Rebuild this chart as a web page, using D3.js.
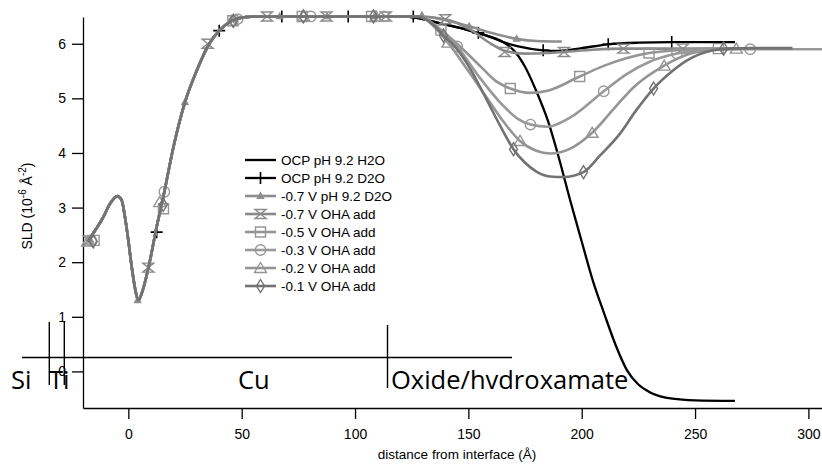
<!DOCTYPE html>
<html><head><meta charset="utf-8">
<script src="https://cdn.jsdelivr.net/npm/d3@7/dist/d3.min.js"></script>
<style>body{margin:0;background:#fff}svg{display:block}</style>
</head><body><svg id="c" width="822" height="464"></svg>
<script>
// ---------- DATA ----------
const xTicks = [0, 50, 100, 150, 200, 250, 300];
const yTicks = [0, 1, 2, 3, 4, 5, 6];
const seriesNames = ["OCP pH 9.2 H2O", "OCP pH 9.2 D2O", "-0.7 V pH 9.2 D2O", "-0.7 V OHA add",
  "-0.5 V OHA add", "-0.3 V OHA add", "-0.2 V OHA add", "-0.1 V OHA add"];
const layerLabels = ["Si", "Ti", "Cu", "Oxide/hvdroxamate"];

// shared substrate part of every profile (distance Å, SLD 1e-6 Å^-2)
const profileX = [-18, -11, -8.1, -4.8, -2.9, -1.5, 0, 1.5, 3.4, 4.4, 5.9, 9.3, 12.5, 15.4, 19.9, 25, 30.2, 35.7, 40.1, 45.6, 52, 60, 80, 100, 120];
const profileY = [2.38, 2.83, 3.07, 3.21, 3.13, 2.83, 2.40, 1.91, 1.43, 1.30, 1.43, 1.98, 2.65, 3.19, 4.11, 4.93, 5.51, 6.0, 6.24, 6.42, 6.49, 6.5, 6.5, 6.5, 6.5];

// series-specific outer parts
const h2oX = [128, 135, 142, 150.7, 158, 165.4, 170, 175, 180, 185, 190, 195, 200, 205, 210, 215, 220, 225, 230, 240, 250, 267.6];
const h2oY = [6.47, 6.4, 6.33, 6.24, 6.15, 6.03, 5.88, 5.58, 5.13, 4.6, 3.9, 3.12, 2.38, 1.65, 1.05, 0.48, 0.02, -0.24, -0.38, -0.5, -0.53, -0.54];
const d2oX = [128, 135, 142, 150.7, 158, 165.4, 172, 183, 190, 200, 211.7, 225, 239.7, 267.6];
const d2oY = [6.47, 6.4, 6.33, 6.24, 6.15, 6.03, 5.95, 5.88, 5.87, 5.92, 5.99, 6.02, 6.03, 6.03];
const m07pHX = [129.5, 140, 150.4, 160, 171.3, 180, 191.2];
const m07pHY = [6.5, 6.43, 6.32, 6.2, 6.09, 6.05, 6.04];
const m07X = [128, 139.8, 150, 160, 166, 175, 185, 192.2, 205, 218.4, 244.6, 275];
const m07Y = [6.5, 6.45, 6.28, 6.0, 5.87, 5.82, 5.83, 5.85, 5.89, 5.91, 5.91, 5.91];
const m05X = [128, 137.9, 145, 155, 162, 168.5, 177, 185, 199.1, 210, 220, 229.7, 245, 260.3, 275];
const m05Y = [6.5, 6.25, 6.0, 5.6, 5.32, 5.18, 5.10, 5.14, 5.40, 5.6, 5.74, 5.83, 5.89, 5.91, 5.91];
const m03X = [128, 135, 145.1, 155, 165, 172, 177.4, 185, 195, 209.7, 220, 230, 242, 255, 274.3, 310];
const m03Y = [6.5, 6.35, 5.95, 5.38, 4.88, 4.62, 4.52, 4.48, 4.65, 5.13, 5.45, 5.67, 5.82, 5.88, 5.9, 5.9];
const m02X = [128, 134, 141, 150, 158, 165, 172.8, 180, 186, 195, 204.6, 215, 222.8, 236.4, 248, 258, 268.2, 275];
const m02Y = [6.5, 6.35, 6.02, 5.5, 5.02, 4.6, 4.22, 4.04, 3.99, 4.08, 4.37, 4.85, 5.2, 5.6, 5.82, 5.89, 5.91, 5.91];
const m01X = [128, 135, 139, 143.4, 150, 158, 164, 169.9, 175, 180, 186, 192, 200.8, 208, 216.8, 224, 231.7, 240, 246.3, 258, 265, 275, 293];
const m01Y = [6.5, 6.33, 6.15, 5.98, 5.6, 4.98, 4.5, 4.07, 3.82, 3.66, 3.57, 3.56, 3.65, 3.95, 4.35, 4.78, 5.18, 5.5, 5.69, 5.88, 5.91, 5.92, 5.92];

// marker points of each series
const d2oMarkX = [12.5, 40.1, 67.7, 97, 125.7, 154.4, 183, 211.7, 239.7];
const d2oMarkY = [2.55, 6.24, 6.5, 6.5, 6.5, 6.2, 5.88, 5.99, 6.03];
const m07pHMarkX = [-16.8, 4.1, 25, 45.9, 66.8, 87.7, 108.6, 129.5, 150.4, 171.3];
const m07pHMarkY = [2.41, 1.3, 4.93, 6.45, 6.5, 6.5, 6.5, 6.52, 6.32, 6.09];
const m07MarkX = [-17.4, 8.8, 35, 61.2, 87.4, 113.6, 139.8, 166, 192.2, 218.4, 244.6];
const m07MarkY = [2.4, 1.9, 6.0, 6.5, 6.5, 6.5, 6.45, 5.85, 5.85, 5.91, 5.91];
const m05MarkX = [-15.1, 15.5, 46.1, 76.7, 107.3, 137.9, 168.5, 199.1, 229.7, 260.3];
const m05MarkY = [2.4, 2.98, 6.42, 6.5, 6.5, 6.25, 5.18, 5.40, 5.83, 5.91];
const m03MarkX = [-16.4, 15.9, 48.2, 80.5, 112.8, 145.1, 177.4, 209.7, 242, 274.3];
const m03MarkY = [2.4, 3.29, 6.45, 6.5, 6.5, 5.95, 4.52, 5.13, 5.82, 5.9];
const m02MarkX = [-18, 13.8, 45.6, 77.4, 109.2, 141, 172.8, 204.6, 236.4, 268.2];
const m02MarkY = [2.38, 3.1, 6.42, 6.5, 6.5, 6.02, 4.22, 4.37, 5.6, 5.91];
const m01MarkX = [-15.5, 15.4, 46.3, 77.2, 108.1, 139, 169.9, 200.8, 231.7, 262.6];
const m01MarkY = [2.38, 3.05, 6.42, 6.5, 6.5, 6.15, 4.07, 3.65, 5.18, 5.91];

// ---------- DRAWING ----------
const svg = d3.select("#c");
const x = d3.scaleLinear().domain([-20, 306]).range([83, 822]);
const y = d3.scaleLinear().domain([-0.67, 6.49]).range([408, 17]);

const pairs = (xs, ys) => xs.map((v, i) => [v, ys[i]]);
const full = (tx, ty) => pairs(profileX, profileY).concat(pairs(tx, ty));

const styles = [
  {color: "#000", w: 2.3, marker: null},
  {color: "#000", w: 2.3, marker: "plus"},
  {color: "#8e8e8e", w: 2.6, marker: "smalltri"},
  {color: "#8a8a8a", w: 2.6, marker: "hourglass"},
  {color: "#959595", w: 2.6, marker: "square"},
  {color: "#999999", w: 2.6, marker: "circle"},
  {color: "#959595", w: 2.6, marker: "triangle"},
  {color: "#727272", w: 2.6, marker: "diamond"}
];
const lines = [full(h2oX, h2oY), full(d2oX, d2oY), full(m07pHX, m07pHY), full(m07X, m07Y),
  full(m05X, m05Y), full(m03X, m03Y), full(m02X, m02Y), full(m01X, m01Y)];
const marks = [[], pairs(d2oMarkX, d2oMarkY), pairs(m07pHMarkX, m07pHMarkY), pairs(m07MarkX, m07MarkY),
  pairs(m05MarkX, m05MarkY), pairs(m03MarkX, m03MarkY), pairs(m02MarkX, m02MarkY), pairs(m01MarkX, m01MarkY)];

const markerPath = {
  plus: "M0,-6L0,6M-6,0L6,0",
  smalltri: "M0,-3.2L3,2.2L-3,2.2Z",
  hourglass: "M-5.5,-4.5L5.5,-4.5L-5.5,4.5L5.5,4.5Z",
  square: "M-5,-5L5,-5L5,5L-5,5Z",
  circle: "M5.2,0A5.2,5.2 0 1 1 -5.2,0A5.2,5.2 0 1 1 5.2,0Z",
  triangle: "M0,-5.5L6,4.5L-6,4.5Z",
  diamond: "M0,-6.5L4,0L0,6.5L-4,0Z"
};
function drawMarker(g, type, color, px, py) {
  const p = g.append("path").attr("d", markerPath[type]).attr("transform", `translate(${px},${py})`)
    .attr("stroke", color).attr("stroke-width", type === "plus" ? 1.6 : 1.4);
  if (type === "smalltri") p.attr("fill", color); else p.attr("fill", "none");
}

// annotation layer lines (drawn under plot)
const ann = svg.append("g").attr("stroke", "#000").attr("stroke-width", 1.4);
ann.append("line").attr("x1", 22).attr("x2", 512).attr("y1", 357.5).attr("y2", 357.5);
[[49.3, 322, 385], [64.3, 322, 385], [387.5, 325, 388]].forEach(d =>
  ann.append("line").attr("x1", d[0]).attr("x2", d[0]).attr("y1", d[1]).attr("y2", d[2]));

// axes
const fontAx = "'Liberation Sans', Arial, sans-serif";
const yAxis = svg.append("g").attr("transform", "translate(83,0)")
  .call(d3.axisLeft(y).tickValues(yTicks).tickSize(11).tickSizeOuter(0).tickPadding(6).tickFormat(d3.format("d")));
const xAxis = svg.append("g").attr("transform", "translate(0,408)")
  .call(d3.axisBottom(x).tickValues(xTicks).tickSize(11).tickSizeOuter(0).tickPadding(10).tickFormat(d3.format("d")));
[yAxis, xAxis].forEach(a => {
  a.selectAll("path,line").attr("stroke", "#000").attr("stroke-width", 1.3);
  a.selectAll("text").attr("font-family", fontAx).attr("font-size", 14).attr("fill", "#000");
});

// axis titles
svg.append("text").attr("x", 457).attr("y", 459).attr("text-anchor", "middle")
  .attr("font-family", fontAx).attr("font-size", 13.5).text("distance from interface (Å)");
const yl = svg.append("text").attr("transform", "translate(32,206) rotate(-90)").attr("text-anchor", "middle")
  .attr("font-family", fontAx).attr("font-size", 14);
yl.append("tspan").text("SLD (10");
yl.append("tspan").attr("dy", -6).attr("font-size", 10).text("-6");
yl.append("tspan").attr("dy", 6).text(" Å");
yl.append("tspan").attr("dy", -6).attr("font-size", 10).text("-2");
yl.append("tspan").attr("dy", 6).text(")");

// data lines
const lineGen = d3.line().x(d => x(d[0])).y(d => y(d[1])).curve(d3.curveMonotoneX);
const plot = svg.append("g");
lines.forEach((ln, i) => {
  const s = styles[i];
  const g = plot.append("g");
  g.append("path").attr("d", lineGen(ln)).attr("fill", "none").attr("stroke", s.color)
    .attr("stroke-width", s.w).attr("stroke-linejoin", "round");
  if (s.marker) marks[i].forEach(m => drawMarker(g, s.marker, s.color, x(m[0]), y(m[1])));
});

// legend
const lg = svg.append("g");
seriesNames.forEach((name, i) => {
  const s = styles[i];
  const yy = 160 + i * 18;
  lg.append("line").attr("x1", 245).attr("x2", 276).attr("y1", yy).attr("y2", yy)
    .attr("stroke", s.color).attr("stroke-width", s.w);
  if (s.marker) drawMarker(lg, s.marker, s.color, 260.5, yy);
  lg.append("text").attr("x", 281).attr("y", yy + 5).attr("font-family", fontAx).attr("font-size", 13.5).text(name);
});

// layer labels
const fontL = "'Open Sans', 'Noto Sans', sans-serif";
const lpos = [[11, 389], [49, 389], [238, 389], [391, 389]];
layerLabels.forEach((t, i) => svg.append("text").attr("x", lpos[i][0]).attr("y", lpos[i][1])
  .attr("font-family", fontL).attr("font-size", 25.5).attr("fill", "#000").text(t));
</script></body></html>
